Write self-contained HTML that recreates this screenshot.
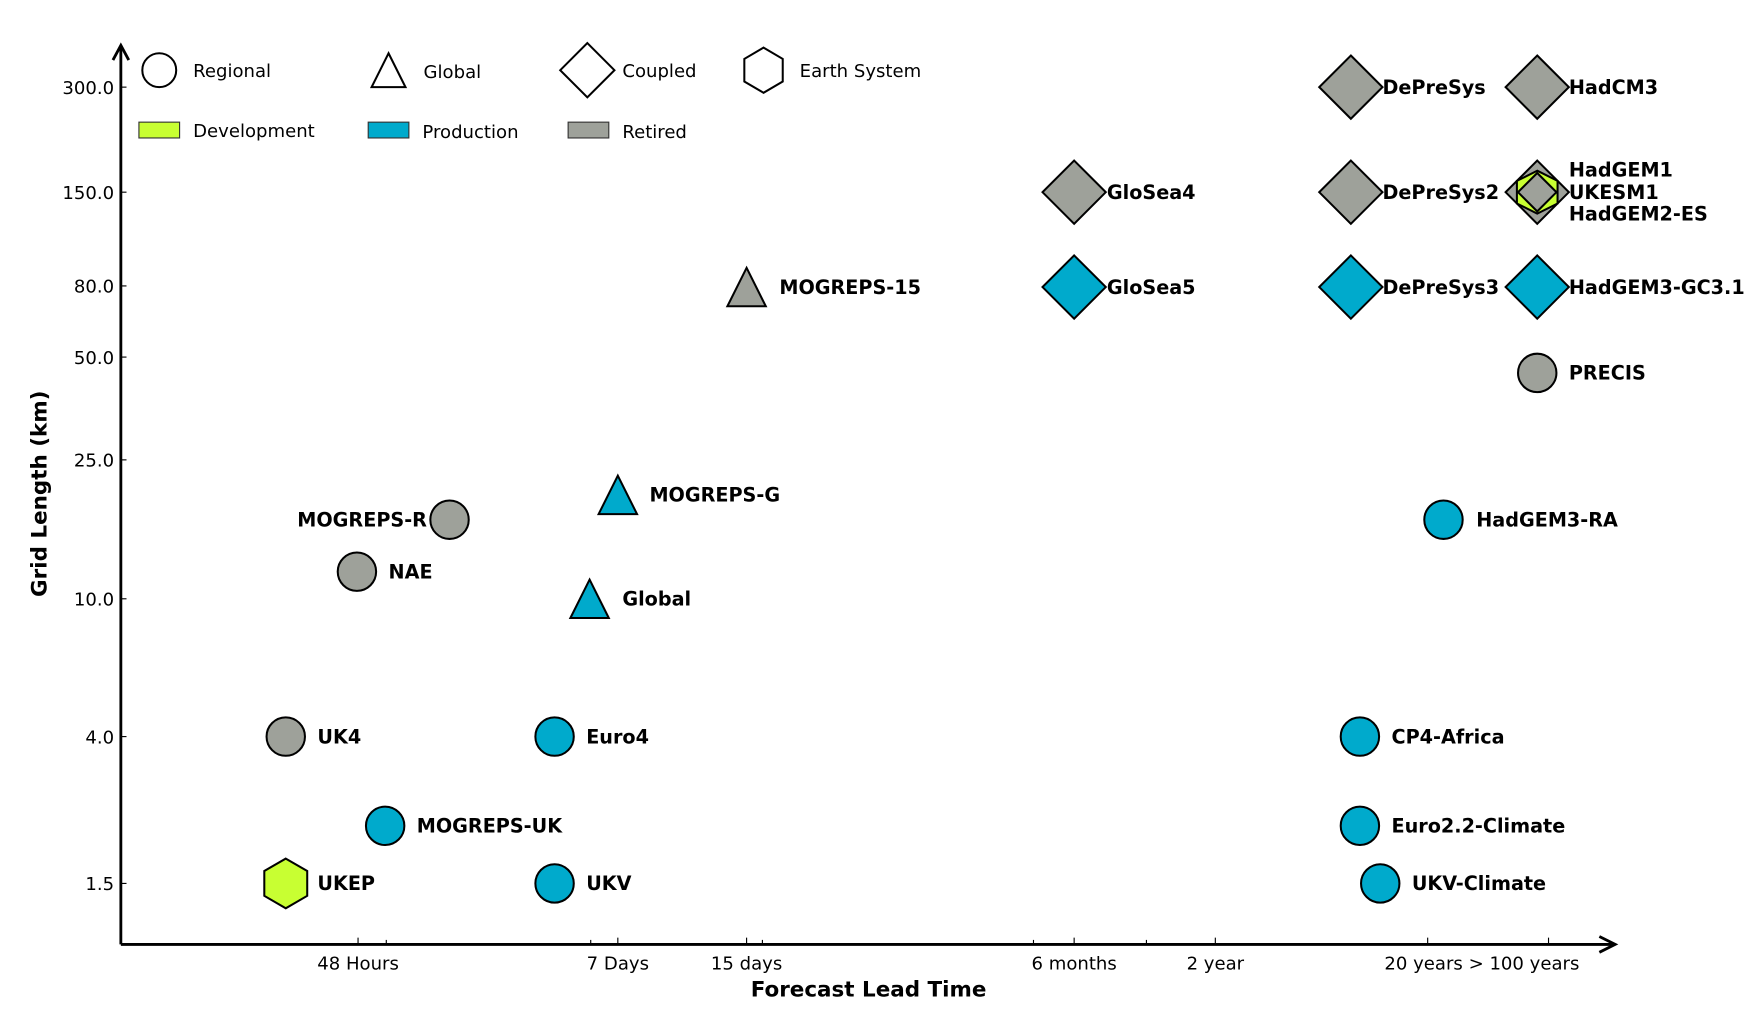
<!DOCTYPE html>
<html><head><meta charset="utf-8"><style>
html,body{margin:0;padding:0;background:#fff;}
svg{display:block;}
text{font-family:"DejaVu Sans","Liberation Sans",sans-serif;}
.t{font-size:16px;}
.b{font-size:17px;font-weight:bold;}
</style></head><body>
<svg width="1762" height="1018" viewBox="0 0 1560 901" xmlns="http://www.w3.org/2000/svg">
<g stroke="#000" stroke-width="2.5" fill="none">
<line x1="107" y1="836" x2="107" y2="40"/>
<polyline points="100,53 107,40 114,53"/>
<line x1="107" y1="836" x2="1430" y2="836"/>
<polyline points="1416,829 1430,836 1416,843"/>
</g>
<g stroke="#000" stroke-width="1">
<line x1="107" y1="77" x2="112" y2="77"/><line x1="107" y1="170" x2="112" y2="170"/>
<line x1="107" y1="253" x2="112" y2="253"/><line x1="107" y1="316" x2="112" y2="316"/>
<line x1="107" y1="407" x2="112" y2="407"/><line x1="107" y1="530" x2="112" y2="530"/>
<line x1="107" y1="652" x2="112" y2="652"/><line x1="107" y1="782" x2="112" y2="782"/>
<line x1="317" y1="836" x2="317" y2="830"/><line x1="342" y1="836" x2="342" y2="832"/>
<line x1="547" y1="836" x2="547" y2="830"/><line x1="523" y1="836" x2="523" y2="832"/>
<line x1="661" y1="836" x2="661" y2="830"/><line x1="675" y1="836" x2="675" y2="832"/>
<line x1="951" y1="836" x2="951" y2="830"/><line x1="915" y1="836" x2="915" y2="832"/>
<line x1="1076" y1="836" x2="1076" y2="830"/><line x1="1015" y1="836" x2="1015" y2="832"/>
<line x1="1264" y1="836" x2="1264" y2="830"/><line x1="1371" y1="836" x2="1371" y2="830"/>
</g>
<g class="t" text-anchor="end">
<text x="101" y="83">300.0</text><text x="101" y="176">150.0</text>
<text x="101" y="259">80.0</text><text x="101" y="322">50.0</text>
<text x="101" y="413">25.0</text><text x="101" y="536">10.0</text>
<text x="101" y="658">4.0</text><text x="101" y="788">1.5</text>
</g>
<g class="t" text-anchor="middle">
<text x="317" y="858">48 Hours</text><text x="547" y="858">7 Days</text>
<text x="661" y="858">15 days</text><text x="951" y="858">6 months</text>
<text x="1076" y="858">2 year</text><text x="1312" y="858">20 years &gt; 100  years</text>
</g>
<text x="769" y="882" text-anchor="middle" style="font-size:19px;font-weight:bold">Forecast Lead Time</text>
<text transform="translate(41,437) rotate(-90)" text-anchor="middle" style="font-size:19px;font-weight:bold">Grid Length (km)</text>

<!-- legend -->
<g stroke="#000" stroke-width="1.8" fill="#fff">
<circle cx="141" cy="62" r="15"/>
<polygon points="344,47 359,77 329,77"/>
<polygon points="520,38 544,62 520,86 496,62"/>
<polygon points="676,42 693,52 693,72 676,82 659,72 659,52"/>
</g>
<g stroke="#333" stroke-width="1">
<rect x="123" y="108" width="36" height="14" fill="#c8ff32"/>
<rect x="326" y="108" width="36" height="14" fill="#00aacc"/>
<rect x="503" y="108" width="36" height="14" fill="#9ea19a"/>
</g>
<g class="t">
<text x="171" y="68">Regional</text><text x="375" y="69">Global</text>
<text x="551" y="68">Coupled</text><text x="708" y="68">Earth System</text>
<text x="171" y="121">Development</text><text x="374" y="122">Production</text>
<text x="551" y="122">Retired</text>
</g>

<defs>
<polygon id="dm" points="0,-28 28,0 0,28 -28,0" stroke="#000" stroke-width="1.8"/>
<polygon id="tr" points="0,-17 17,17 -17,17" stroke="#000" stroke-width="1.8"/>
<circle id="ci" r="17" stroke="#000" stroke-width="1.8"/>
</defs>
<g fill="#9ea19a">
<use href="#dm" x="1196" y="77"/><use href="#dm" x="1361" y="77"/>
<use href="#dm" x="951" y="170"/><use href="#dm" x="1196" y="170"/>
<use href="#dm" x="1361" y="170"/>
<use href="#tr" x="661" y="254"/>
<use href="#ci" x="1361" y="330"/><use href="#ci" x="398" y="460"/>
<use href="#ci" x="316" y="506"/><use href="#ci" x="253" y="652"/>
</g>
<polygon points="1361,151 1379,160 1379,180 1361,189 1343,180 1343,160" fill="#c8ff32" stroke="#000" stroke-width="1.8"/>
<polygon points="1361,153 1378,170 1361,187 1344,170" fill="#9ea19a" stroke="#000" stroke-width="1.8"/>
<g fill="#00aacc">
<use href="#dm" x="951" y="254"/><use href="#dm" x="1196" y="254"/><use href="#dm" x="1361" y="254"/>
<use href="#tr" x="547" y="438"/><use href="#tr" x="522" y="530"/>
<use href="#ci" x="1278" y="460"/><use href="#ci" x="491" y="652"/><use href="#ci" x="1204" y="652"/>
<use href="#ci" x="341" y="731"/><use href="#ci" x="1204" y="731"/>
<use href="#ci" x="491" y="782"/><use href="#ci" x="1222" y="782"/>
</g>
<polygon points="253,760 272,771 272,793 253,804 234,793 234,771" fill="#c8ff32" stroke="#000" stroke-width="1.8"/>

<g class="b">
<text x="1224" y="83">DePreSys</text><text x="1389" y="83">HadCM3</text>
<text x="980" y="176">GloSea4</text><text x="1224" y="176">DePreSys2</text>
<text x="1389" y="156">HadGEM1</text><text x="1389" y="176">UKESM1</text><text x="1389" y="195">HadGEM2-ES</text>
<text x="980" y="260">GloSea5</text><text x="1224" y="260">DePreSys3</text><text x="1389" y="260">HadGEM3-GC3.1</text>
<text x="690" y="260">MOGREPS-15</text>
<text x="1389" y="336">PRECIS</text>
<text x="575" y="444">MOGREPS-G</text>
<text x="378" y="466" text-anchor="end">MOGREPS-R</text>
<text x="1307" y="466">HadGEM3-RA</text>
<text x="344" y="512">NAE</text>
<text x="551" y="536">Global</text>
<text x="281" y="658">UK4</text><text x="519" y="658">Euro4</text><text x="1232" y="658">CP4-Africa</text>
<text x="369" y="737">MOGREPS-UK</text><text x="1232" y="737">Euro2.2-Climate</text>
<text x="281" y="788">UKEP</text><text x="519" y="788">UKV</text><text x="1250" y="788">UKV-Climate</text>
</g>
</svg>
</body></html>
